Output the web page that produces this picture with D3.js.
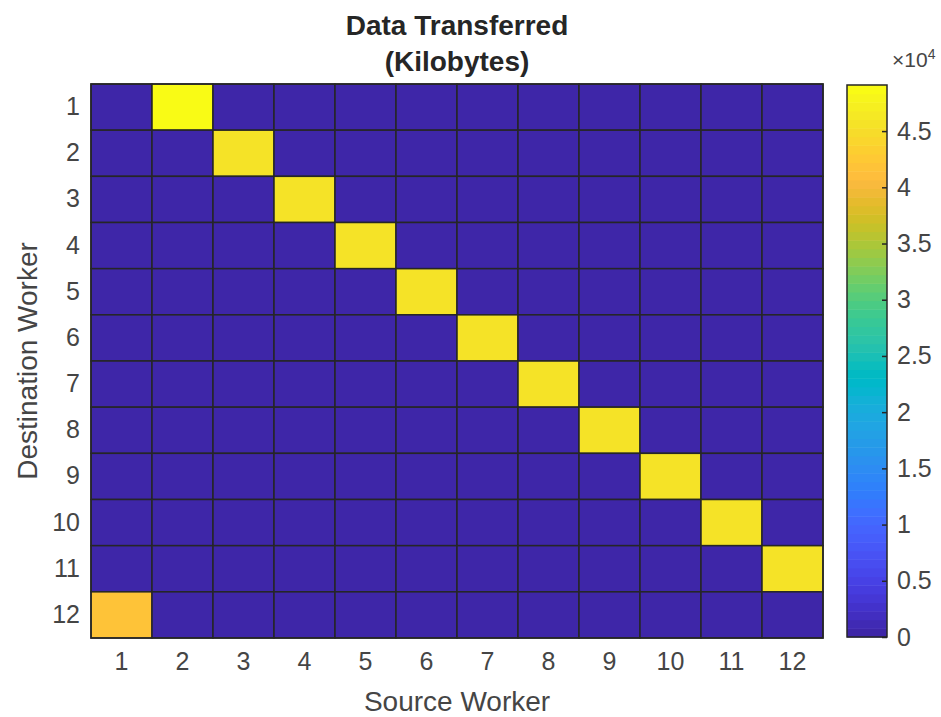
<!DOCTYPE html>
<html><head><meta charset="utf-8">
<script src="https://cdn.jsdelivr.net/npm/d3@7"></script>
<style>
body{margin:0;background:#fff}
svg{display:block}
text{font-family:"Liberation Sans",Arial,Helvetica,sans-serif}
</style>
</head><body>
<svg id="chart" width="941" height="717"></svg>
<script>
// ---- data ----
const sourceWorkers = ["1","2","3","4","5","6","7","8","9","10","11","12"];
const destinationWorkers = ["1","2","3","4","5","6","7","8","9","10","11","12"];
// rows = destination worker, columns = source worker (kilobytes)
const kilobytes = [
  [0,49100,0,0,0,0,0,0,0,0,0,0],
  [0,0,45800,0,0,0,0,0,0,0,0,0],
  [0,0,0,45800,0,0,0,0,0,0,0,0],
  [0,0,0,0,45800,0,0,0,0,0,0,0],
  [0,0,0,0,0,45800,0,0,0,0,0,0],
  [0,0,0,0,0,0,45800,0,0,0,0,0],
  [0,0,0,0,0,0,0,45800,0,0,0,0],
  [0,0,0,0,0,0,0,0,45800,0,0,0],
  [0,0,0,0,0,0,0,0,0,45800,0,0],
  [0,0,0,0,0,0,0,0,0,0,45800,0],
  [0,0,0,0,0,0,0,0,0,0,0,45800],
  [41800,0,0,0,0,0,0,0,0,0,0,0]
];
const colorbarTicks = [0,5000,10000,15000,20000,25000,30000,35000,40000,45000];
const titleLines = ["Data Transferred","(Kilobytes)"];
const xLabel = "Source Worker";
const yLabel = "Destination Worker";

// parula colormap (64 entries)
const parula = [
[0.2422,0.1504,0.6603],[0.2504,0.1650,0.7076],[0.2578,0.1818,0.7511],[0.2647,0.1978,0.7952],
[0.2706,0.2147,0.8364],[0.2751,0.2342,0.8710],[0.2783,0.2559,0.8991],[0.2803,0.2782,0.9221],
[0.2813,0.3006,0.9414],[0.2810,0.3228,0.9579],[0.2795,0.3447,0.9717],[0.2760,0.3667,0.9829],
[0.2699,0.3892,0.9906],[0.2602,0.4123,0.9952],[0.2440,0.4358,0.9988],[0.2206,0.4603,0.9973],
[0.1963,0.4847,0.9892],[0.1834,0.5074,0.9798],[0.1786,0.5289,0.9682],[0.1764,0.5499,0.9520],
[0.1687,0.5703,0.9359],[0.1540,0.5902,0.9218],[0.1460,0.6091,0.9079],[0.1380,0.6276,0.8973],
[0.1248,0.6459,0.8883],[0.1113,0.6635,0.8763],[0.0952,0.6798,0.8598],[0.0689,0.6948,0.8394],
[0.0297,0.7082,0.8163],[0.0036,0.7203,0.7917],[0.0067,0.7312,0.7660],[0.0433,0.7411,0.7394],
[0.0964,0.7500,0.7120],[0.1408,0.7584,0.6842],[0.1717,0.7670,0.6554],[0.1938,0.7758,0.6251],
[0.2161,0.7843,0.5923],[0.2470,0.7918,0.5567],[0.2906,0.7973,0.5188],[0.3406,0.8008,0.4789],
[0.3909,0.8029,0.4354],[0.4456,0.8024,0.3909],[0.5044,0.7993,0.3480],[0.5616,0.7942,0.3045],
[0.6174,0.7876,0.2612],[0.6720,0.7793,0.2227],[0.7242,0.7698,0.1910],[0.7738,0.7598,0.1646],
[0.8203,0.7498,0.1535],[0.8634,0.7406,0.1596],[0.9035,0.7330,0.1774],[0.9393,0.7288,0.2100],
[0.9728,0.7298,0.2394],[0.9956,0.7434,0.2371],[0.9970,0.7659,0.2199],[0.9952,0.7893,0.2028],
[0.9892,0.8136,0.1885],[0.9786,0.8386,0.1766],[0.9676,0.8639,0.1643],[0.9610,0.8890,0.1537],
[0.9597,0.9135,0.1423],[0.9628,0.9373,0.1265],[0.9691,0.9606,0.1064],[0.9769,0.9839,0.0805]
].map(c => d3.rgb(c[0]*255, c[1]*255, c[2]*255).formatHex());

// ---- layout ----
const svg = d3.select("#chart");
const plot = {left: 91, right: 823, top: 84, bottom: 638};
const cbar = {left: 847, right: 887, top: 85, bottom: 637};
const tickColor = "#454545";
const gridColor = "#262626";

const allValues = kilobytes.flat();
const vMin = d3.min(allValues), vMax = d3.max(allValues);

const x = d3.scaleBand().domain(sourceWorkers).range([plot.left, plot.right]);
const y = d3.scaleBand().domain(destinationWorkers).range([plot.top, plot.bottom]);
const color = d3.scaleQuantize().domain([vMin, vMax]).range(parula);

// cells
const cells = [];
kilobytes.forEach((row, i) => row.forEach((v, j) => cells.push({dest: destinationWorkers[i], src: sourceWorkers[j], v})));
svg.append("g").selectAll("rect").data(cells).join("rect")
  .attr("x", d => x(d.src)).attr("y", d => y(d.dest))
  .attr("width", x.bandwidth()).attr("height", y.bandwidth())
  .attr("fill", d => color(d.v))
  .attr("stroke", gridColor).attr("stroke-width", 1.5);

svg.append("rect")
  .attr("x", plot.left).attr("y", plot.top)
  .attr("width", plot.right - plot.left).attr("height", plot.bottom - plot.top)
  .attr("fill", "none").attr("stroke", gridColor).attr("stroke-width", 1.5);

// axes
const xAxis = svg.append("g").attr("transform", `translate(0,${plot.bottom})`)
  .call(d3.axisBottom(x).tickSize(0).tickPadding(14));
const yAxis = svg.append("g").attr("transform", `translate(${plot.left},0)`)
  .call(d3.axisLeft(y).tickSize(0).tickPadding(11));
[xAxis, yAxis].forEach(g => {
  g.select(".domain").remove();
  g.selectAll("text").attr("font-size", 25).attr("fill", tickColor)
    .attr("font-family", "'Liberation Sans',Arial,sans-serif");
});

// axis labels
svg.append("text").attr("x", (plot.left + plot.right) / 2).attr("y", 711)
  .attr("text-anchor", "middle").attr("font-size", 28).attr("fill", tickColor).text(xLabel);
svg.append("text").attr("transform", `translate(37,${(plot.top + plot.bottom) / 2}) rotate(-90)`)
  .attr("text-anchor", "middle").attr("font-size", 28).attr("fill", tickColor).text(yLabel);

// title
svg.append("g").selectAll("text").data(titleLines).join("text")
  .attr("x", (plot.left + plot.right) / 2).attr("y", (d, i) => 35 + i * 36)
  .attr("text-anchor", "middle").attr("font-size", 28).attr("font-weight", "bold")
  .attr("fill", "#262626").text(d => d);

// colorbar
const cScale = d3.scaleLinear().domain([vMin, vMax]).range([cbar.bottom, cbar.top]);
const nC = parula.length;
const bands = d3.range(nC).map(k => ({k, lo: vMin + (vMax - vMin) * k / nC, hi: vMin + (vMax - vMin) * (k + 1) / nC}));
svg.append("g").selectAll("rect").data(bands).join("rect")
  .attr("x", cbar.left).attr("width", cbar.right - cbar.left)
  .attr("y", d => cScale(d.hi)).attr("height", d => cScale(d.lo) - cScale(d.hi) + 0.5)
  .attr("fill", d => parula[d.k]);
svg.append("rect").attr("x", cbar.left).attr("y", cbar.top)
  .attr("width", cbar.right - cbar.left).attr("height", cbar.bottom - cbar.top)
  .attr("fill", "none").attr("stroke", gridColor).attr("stroke-width", 1.5);
const cAxis = svg.append("g").attr("transform", `translate(${cbar.right},0)`)
  .call(d3.axisRight(cScale).tickValues(colorbarTicks).tickSize(-5).tickPadding(10)
    .tickFormat(d => d3.format("~g")(d / 1e4)));
cAxis.select(".domain").remove();
cAxis.selectAll("line").attr("stroke", gridColor).attr("stroke-width", 1.5);
cAxis.selectAll("text").attr("font-size", 25).attr("fill", tickColor)
  .attr("font-family", "'Liberation Sans',Arial,sans-serif");

// exponent label
const expo = svg.append("text").attr("x", 892).attr("y", 67).attr("font-size", 21).attr("fill", tickColor);
expo.append("tspan").text("\u00d710");
expo.append("tspan").attr("dy", -8).attr("font-size", 14).text("4");
</script>
</body></html>
